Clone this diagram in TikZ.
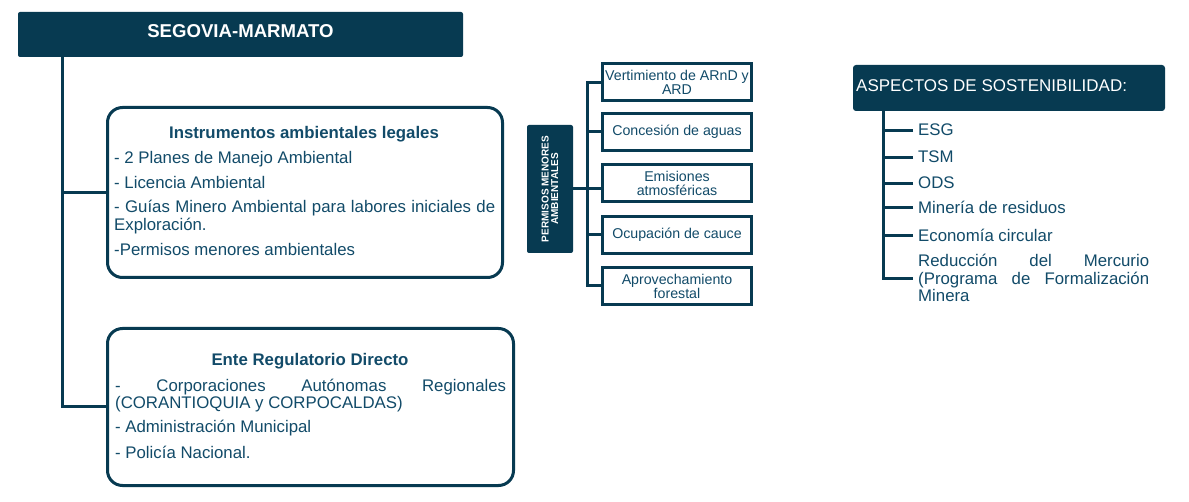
\documentclass[tikz,border=0pt]{standalone}
\usepackage{fontspec}
\setmainfont{Liberation Sans}
\definecolor{dk}{HTML}{073A51}
\definecolor{tx}{HTML}{124B69}
\tikzset{
  conn/.style={draw=dk, line width=3pt},
  bigbox/.style={draw=dk, line width=3pt, rounded corners=15pt, inner sep=0pt},
  smallbox/.style={draw=dk, line width=3pt, minimum width=149pt, minimum height=37pt, align=center, inner xsep=1pt, inner ysep=0pt, font=\fontsize{14.2}{14}\selectfont, text=tx},
  darkbox/.style={fill=dk, draw=none, inner sep=0pt},
  body/.style={text=tx, inner sep=0pt, anchor=base west, font=\fontsize{16.8}{18}\selectfont},
  head/.style={text=tx, inner sep=0pt, anchor=base, font=\bfseries\fontsize{16.8}{18}\selectfont},
  item/.style={text=tx, inner sep=0pt, anchor=base west, font=\fontsize{16.8}{17.5}\selectfont},
}
\begin{document}
\begin{tikzpicture}[x=1pt, y=-1pt]
\useasboundingbox (0,0) rectangle (1189,502);
\fill[white] (0,0) rectangle (1189,502);

% title
\node[darkbox, rounded corners=2pt, minimum width=445pt, minimum height=45pt, text=white,
      font=\bfseries\fontsize{18.6}{20}\selectfont, text height=13pt, text depth=6pt]
      (title) at (240.5,34.5) {SEGOVIA-MARMATO};
\coordinate (tr) at (62,0);

% box 1
\node[bigbox, minimum width=395pt, minimum height=170pt] (b1) at (305,192.5) {};
\node[head] (b1h) at (304,139) {Instrumentos ambientales legales};
\node[body] (b1a) at (114,164) {- 2 Planes de Manejo Ambiental};
\node[body] (b1b) at (114,189) {- Licencia Ambiental};
\node[body] (b1c) at (114,213) {\makebox[381pt][s]{- Guías Minero Ambiental para labores iniciales de}};
\node[body] (b1d) at (114,231) {Exploración.};
\node[body] (b1e) at (114,256) {-Permisos menores ambientales};

% box 2
\node[bigbox, minimum width=406pt, minimum height=157pt] (b2) at (310.5,407) {};
\node[head] (b2h) at (310,366) {Ente Regulatorio Directo};
\node[body] (b2a) at (115,392) {\makebox[391pt][s]{- Corporaciones Autónomas Regionales}};
\node[body] (b2b) at (115,409) {(CORANTIOQUIA y CORPOCALDAS)};
\node[body] (b2c) at (115,433) {- Administración Municipal};
\node[body] (b2d) at (115,458) {- Policía Nacional.};

% trunk
\draw[conn] (title.south -| tr) |- (b2.west);
\draw[conn] (b1.west) -- (b1.west -| tr);

% permisos
\node[darkbox, rounded corners=2pt, rotate=90, minimum width=128pt, minimum height=46pt, text=white,
      align=center, font=\bfseries\fontsize{10}{9.5}\selectfont]
      (perm) at (550,189) {PERMISOS MENORES\\AMBIENTALES};
\coordinate (bus) at (587,0);
\node[smallbox] (ba) at (677,82.5) {Vertimiento de ARnD y\\ARD};
\node[smallbox] (bb) at (677,132) {Concesión de aguas};
\node[smallbox] (bc) at (677,183) {Emisiones\\atmosféricas};
\node[smallbox] (bd) at (677,235) {Ocupación de cauce};
\node[smallbox] (be) at (677,286) {Aprovechamiento\\forestal};
\draw[conn] (ba.west) -- (ba.west -| bus) -- (be.west -| bus) -- (be.west);
\draw[conn] (bb.west) -- (bb.west -| bus);
\draw[conn] (bd.west) -- (bd.west -| bus);
\draw[conn] (perm.south) -- (perm.south -| bc.west);

% aspectos
\node[darkbox, rounded corners=3pt, minimum width=312pt, minimum height=46pt] (asp) at (1009,88) {};
\node[inner sep=0pt, anchor=base west, text=white, font=\fontsize{17}{18}\selectfont] (asph) at (856,92) {ASPECTOS DE SOSTENIBILIDAD:};
\coordinate (rb) at (883,0);
\node[item] (i1) at (918,136) {ESG};
\node[item] (i2) at (918,163) {TSM};
\node[item] (i3) at (918,189) {ODS};
\node[item] (i4) at (918,214) {Minería de residuos};
\node[item] (i5) at (918,242) {Economía circular};
\node[item] (i6) at (918,267) {\parbox[t]{231pt}{\makebox[\linewidth][s]{Reducción del Mercurio}\\\makebox[\linewidth][s]{(Programa de Formalización}\\Minera}};
\draw[conn] (asp.south -| rb) |- ([xshift=-5pt]i6.west);
\foreach \n in {i1,i2,i3,i4,i5} \draw[conn] ([xshift=-5pt]\n.west) -- (\n.west -| rb);
\end{tikzpicture}
\end{document}
